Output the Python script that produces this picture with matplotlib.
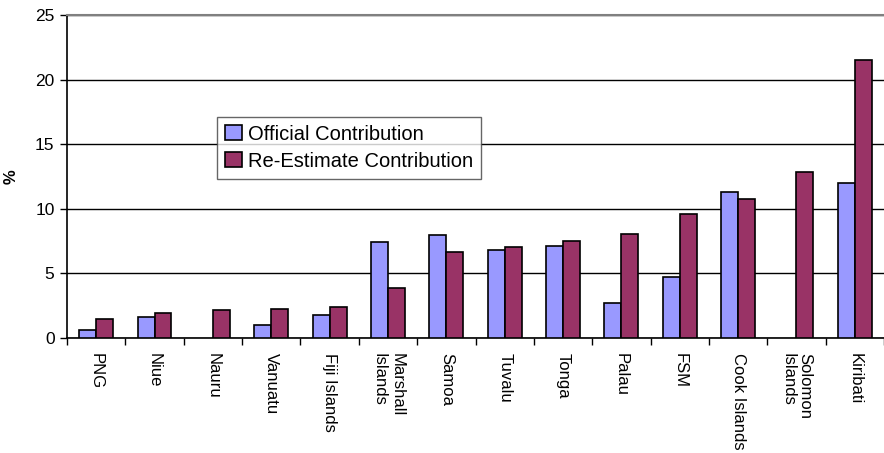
import numpy as np
import matplotlib
matplotlib.use("Agg")
import matplotlib.pyplot as plt

# Country groups along the x axis
countries = ["PNG", "Niue", "Nauru", "Vanuatu", "Fiji Islands",
             "Marshall\nIslands", "Samoa", "Tuvalu", "Tonga", "Palau",
             "FSM", "Cook Islands", "Solomon\nIslands", "Kiribati"]

# Contribution shares (%); NaN where no official figure exists
official = [0.57, 1.6, np.nan, 0.98, 1.78, 7.4, 7.98, 6.8, 7.13, 2.71,
            4.7, 11.32, np.nan, 12.02]
re_estimate = [1.43, 1.89, 2.12, 2.25, 2.4, 3.88, 6.67, 7.05, 7.47, 8.04,
               9.57, 10.78, 12.82, 21.55]

y_ticks = [0, 5, 10, 15, 20, 25]

plt.rcParams["font.family"] = ["Liberation Sans", "DejaVu Sans"]

fig = plt.figure(figsize=(8.84, 4.53), dpi=100)
ax = fig.add_axes([0.0758, 0.2545, 0.9242, 0.7124])

x = np.arange(len(countries))
width = 0.29
ax.bar(x + 0.5 - width / 2, official, width, color="#9999FF",
       edgecolor="black", linewidth=1.2, label="Official Contribution",
       zorder=3)
ax.bar(x + 0.5 + width / 2, re_estimate, width, color="#993366",
       edgecolor="black", linewidth=1.2, label="Re-Estimate Contribution",
       zorder=3)

ax.set_xlim(0, len(countries))
ax.set_ylim(0, 25)
ax.set_yticks(y_ticks)
ax.yaxis.grid(True, color="black", linewidth=1.0, zorder=0)
ax.set_axisbelow(True)

# ticks sit on the group boundaries, labels in the middle of each group
ax.set_xticks(np.arange(len(countries) + 1))
ax.set_xticklabels([])
ax.set_xticks(x + 0.5, minor=True)
ax.set_xticklabels(countries, minor=True, rotation=270, ha="center",
                   va="top", multialignment="left", fontsize=12)
ax.tick_params(axis="x", which="minor", length=0, pad=11)
ax.tick_params(axis="x", which="major", length=5, width=1, direction="out")
ax.tick_params(axis="y", length=5, width=1, labelsize=12.5, pad=4)

ax.spines["right"].set_visible(False)
ax.spines["top"].set_color("#808080")
ax.spines["top"].set_linewidth(1.5)
ax.spines["left"].set_linewidth(1.2)
ax.spines["bottom"].set_linewidth(1.2)

ax.set_ylabel("%", fontsize=12, fontweight="bold", labelpad=12)

leg = ax.legend(loc="upper left", bbox_to_anchor=(0.184, 0.685), fontsize=14.5,
                frameon=True, fancybox=False, shadow=False,
                handlelength=0.8, handleheight=0.8, handletextpad=0.3,
                labelspacing=0.4, borderpad=0.4, borderaxespad=0)
leg.get_frame().set_edgecolor("#404040")
leg.get_frame().set_linewidth(1.0)
leg.set_zorder(5)

fig.savefig("out.png", dpi=100)
